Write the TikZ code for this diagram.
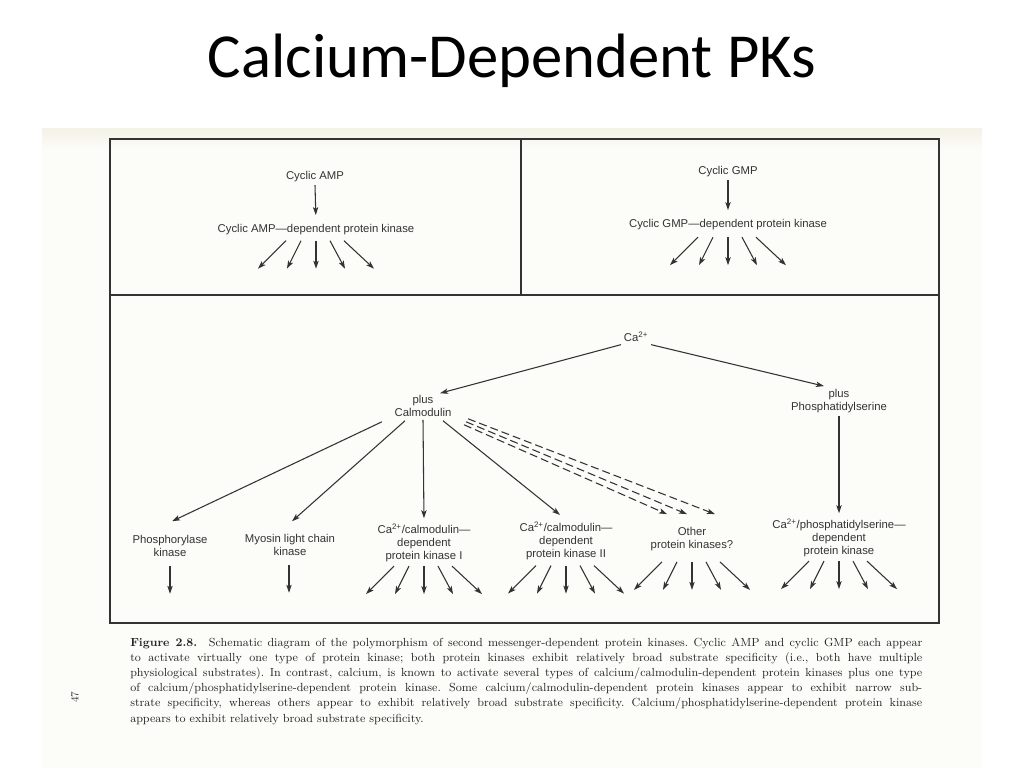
\documentclass[tikz,border=0pt]{standalone}
\usepackage{fontspec}
\newfontfamily\titlefont{Carlito}
\newfontfamily\labelfont{Liberation Sans}
\usetikzlibrary{arrows.meta, calc, positioning}
\definecolor{inkGray}{gray}{0.2}
\definecolor{scanPaper}{rgb}{0.988,0.988,0.978}
\definecolor{scanCream}{rgb}{0.955,0.95,0.905}
\tikzset{
  kinArrow/.style={-{Stealth[length=6pt, width=4pt, inset=1.4pt]}, line width=0.8pt, draw=inkGray},
  guessArrow/.style={kinArrow, dash pattern=on 6pt off 3pt},
  kinLabel/.style={font=\labelfont\fontsize{8.5}{10}\selectfont, text=inkGray, align=center, inner sep=2pt},
  frameLine/.style={line width=1.3pt, draw=inkGray},
}
% five substrate arrows under a kinase: node, gap below its south side
\newcommand{\kinFan}[2]{%
  \foreach \fs/\fe in {-30/-58, -15/-29, 0/0, 14/29, 28/58}
    \draw[kinArrow] ($(#1.south)+(\fs,#2)$) -- ($(#1.south)+(\fe,#2+28)$);
}
% one justified caption line
\newcommand{\capLine}[1]{\makebox[594pt][s]{#1}}
\begin{document}
\begin{tikzpicture}[x=0.75pt, y=-0.75pt]
  \useasboundingbox (0,0) rectangle (1024,768);

  % slide title
  \node[font=\titlefont\fontsize{47}{51}\selectfont, anchor=base] (title) at (512,77) {Calcium-Dependent PKs};

  % scanned page
  \fill[scanPaper] (42,128) rectangle (982,768);
  \shade[top color=scanCream, bottom color=scanPaper] (42,128) rectangle (982,150);
  \draw[frameLine] (110,139) rectangle (939,623);
  \draw[frameLine] (110,295) -- (939,295);
  \draw[frameLine] (521,139) -- (521,295);

  % --- cyclic nucleotides ---
  \node[kinLabel] (amp) at (315,177) {Cyclic AMP};
  \node[kinLabel] (ampK) at (316,230) {Cyclic AMP—dependent protein kinase};
  \node[kinLabel] (gmp) at (728,172) {Cyclic GMP};
  \node[kinLabel] (gmpK) at (728,225) {Cyclic GMP—dependent protein kinase};
  \draw[kinArrow, shorten >=5pt] (amp.south) -- (ampK.north);
  \draw[kinArrow, shorten >=5pt] (gmp.south) -- (gmpK.north);
  \kinFan{ampK}{2.5}
  \kinFan{gmpK}{4}

  % --- calcium ---
  \node[kinLabel] (ca) at (636,337) {Ca\textsuperscript{2+}};
  \node[kinLabel] (calmod) at (423,406) {plus\\Calmodulin};
  \node[kinLabel] (phos) at (839,401) {plus\\Phosphatidylserine};
  \draw[kinArrow] (ca.south west) -- ($(calmod.north)+(17,1)$);
  \draw[kinArrow] (ca.south east) -- ($(phos.north)+(-15,0)$);

  \node[kinLabel] (phk) at (170,546) {Phosphorylase\\kinase};
  \node[kinLabel] (mlck) at (290,545) {Myosin light chain\\kinase};
  \node[kinLabel] (camk1) at (424,543) {Ca\textsuperscript{2+}/calmodulin—\\dependent\\protein kinase I};
  \node[kinLabel] (camk2) at (566,541) {Ca\textsuperscript{2+}/calmodulin—\\dependent\\protein kinase II};
  \node[kinLabel] (other) at (692,539) {Other\\protein kinases?};
  \node[kinLabel] (pskin) at (839,538) {Ca\textsuperscript{2+}/phosphatidylserine—\\dependent\\protein kinase};

  \draw[kinArrow] ($(calmod.south)+(-41,2)$) -- ($(phk.north)+(2,-11)$);
  \draw[kinArrow] ($(calmod.south)+(-18,1)$) -- ($(mlck.north)+(2,-10)$);
  \draw[kinArrow, shorten >=2pt] (calmod.south) -- (camk1.north);
  \draw[kinArrow] ($(calmod.south)+(20,1)$) -- ($(camk2.north)+(-6,-4)$);
  \draw[guessArrow] ($(calmod.south)+(45,-1)$) -- ($(other.north)+(23,-10)$);
  \draw[guessArrow] ($(calmod.south)+(43,2)$) -- ($(other.north)+(-5,-10)$);
  \draw[guessArrow] ($(calmod.south)+(41,5)$) -- ($(other.north)+(-25,-10)$);
  \draw[kinArrow, shorten >=2pt] (phos.south) -- (pskin.north);

  % substrates
  \draw[kinArrow] ($(phk.south)+(0,6)$) -- ++(0,28);
  \draw[kinArrow] ($(mlck.south)+(-1,6)$) -- ++(0,28);
  \kinFan{camk1}{1}
  \kinFan{camk2}{2.5}
  \kinFan{other}{8}
  \kinFan{pskin}{1}

  % caption and page number
  \node[anchor=base west, text width=594pt, inner sep=0pt, align=left, text=black!85,
        font=\fontsize{8.8}{11.4}\selectfont] (caption) at (130,646) {%
    \frenchspacing\spaceskip=0pt\xspaceskip=0pt
    \capLine{\textbf{Figure 2.8.}\quad Schematic diagram of the polymorphism of second messenger-dependent protein kinases. Cyclic AMP and cyclic GMP each appear}\\
    \capLine{to activate virtually one type of protein kinase; both protein kinases exhibit relatively broad substrate specificity (i.e., both have multiple}\\
    \capLine{physiological substrates). In contrast, calcium, is known to activate several types of calcium/calmodulin-dependent protein kinases plus one type}\\
    \capLine{of calcium/phosphatidylserine-dependent protein kinase. Some calcium/calmodulin-dependent protein kinases appear to exhibit narrow sub-}\\
    \capLine{strate specificity, whereas others appear to exhibit relatively broad substrate specificity. Calcium/phosphatidylserine-dependent protein kinase}\\
    appears to exhibit relatively broad substrate specificity.};
  \node[rotate=90, font=\fontsize{8}{9}\selectfont, text=inkGray] (pageNo) at (75,697) {47};
\end{tikzpicture}
\end{document}
